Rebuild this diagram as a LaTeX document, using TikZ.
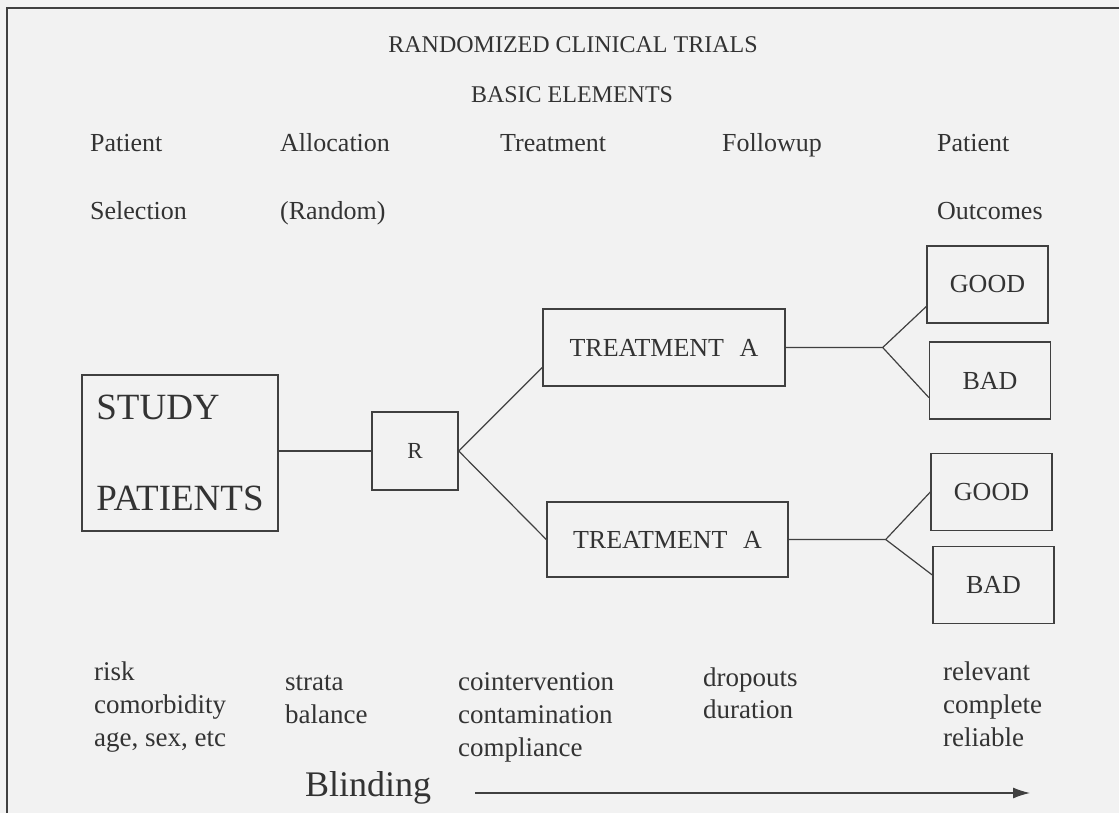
\documentclass[tikz,border=0pt]{standalone}
\usepackage{fontspec}
\setmainfont{LiberationSerif}[Extension=.ttf, UprightFont=*-Regular, BoldFont=*-Bold]
\usetikzlibrary{arrows.meta, calc, positioning}

\begin{document}
\begin{tikzpicture}[x=1pt, y=-1pt,
	every node/.style={color=black!80, inner sep=0pt},
	head/.style={font=\fontsize{26}{31}\selectfont, anchor=base west},
	note/.style={font=\fontsize{27}{33}\selectfont, anchor=base west},
	box/.style={draw=black!75, line width=1.4pt, font=\fontsize{26}{31}\selectfont},
	link/.style={draw=black!75, line width=1.2pt}]

	\useasboundingbox (0,0) rectangle (1119,813);
	\fill[black!5] (0,0) rectangle (1119,813);
	\draw[black!75, line width=1.6pt] (7,813) -- (7,8) -- (1119,8);

	% 标题
	\node[font=\fontsize{24}{29}\selectfont, anchor=base] (title) at (573,53) {RANDOMIZED CLINICAL TRIALS};
	\node[font=\fontsize{24}{29}\selectfont, anchor=base] (basic) at (572,103) {BASIC ELEMENTS};

	% 第一排、第二排表头
	\foreach \x/\t [count=\i] in {90/Patient, 280/Allocation, 500/Treatment, 722/Followup, 937/Patient} {
			\node[head] (top\i) at (\x,152) {\t};
		}
	\node[head] (sel) at (90,220) {Selection};
	\node[head] (rand) at (280,220) {(Random)};
	\node[head] (outc) at (937,220) {Outcomes};

	% 方框
	\node[box, minimum width=196, minimum height=156, align=left, font=\fontsize{37}{91}\selectfont] (study) at (180,453) {STUDY\\PATIENTS};
	\node[box, minimum width=86, minimum height=78, font=\fontsize{23}{28}\selectfont] (r) at (415,451) {R};
	\node[box, minimum width=242, minimum height=77] (ta1) at (664,347.5) {TREATMENT\hspace{0.6em}A};
	\node[box, minimum width=241, minimum height=75] (ta2) at (667.5,539.5) {TREATMENT\hspace{0.6em}A};
	\foreach \n/\x/\y/\t in {g1/987.5/284.5/GOOD, b1/990/380.5/BAD, g2/991.5/492/GOOD, b2/993.5/585/BAD} {
			\node[box, minimum width=121, minimum height=77] (\n) at (\x,\y) {\t};
		}

	% 连线
	\draw[link] (study.east |- r.west) -- (r.west);
	\draw[link] ([yshift=-20pt]ta1.west) -- (r.east) -- (ta2.west);
	\coordinate (f1) at ([xshift=97pt]ta1.east);
	\coordinate (f2) at ([xshift=97pt]ta2.east);
	\draw[link] (ta1.east) -- (f1) -- ([yshift=-22pt]g1.west);
	\draw[link] (f1) -- ([yshift=-17pt]b1.west);
	\draw[link] (ta2.east) -- (f2) -- (g2.west);
	\draw[link] (f2) -- ([yshift=10pt]b2.west);

	% 底部说明
	\foreach \t [count=\i from 0] in {risk, comorbidity, {age, sex, etc}} {
			\node[note] (risk\i) at (94,680+33*\i) {\t};
		}
	\foreach \t [count=\i from 0] in {strata, balance} {
			\node[note] (strata\i) at (285,690+33*\i) {\t};
		}
	\foreach \t [count=\i from 0] in {cointervention, contamination, compliance} {
			\node[note] (coint\i) at (458,690+33*\i) {\t};
		}
	\foreach \t [count=\i from 0] in {dropouts, duration} {
			\node[note] (drop\i) at (703,686+32*\i) {\t};
		}
	\foreach \t [count=\i from 0] in {relevant, complete, reliable} {
			\node[note] (rel\i) at (943,680+33*\i) {\t};
		}

	% Blinding 箭头
	\node[font=\fontsize{36}{43}\selectfont, anchor=base west] (blind) at (305,796) {Blinding};
	\coordinate (bend) at (1030,793);
	\draw[link, -{Latex[length=17pt, width=11pt]}] ([shift={(44pt,3pt)}]blind.base east) -- (bend);

\end{tikzpicture}
\end{document}
